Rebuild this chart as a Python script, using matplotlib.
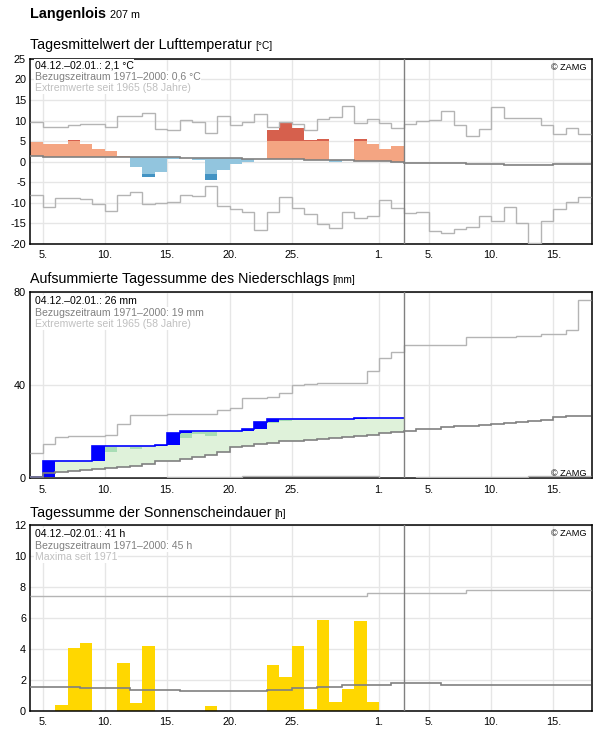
import numpy as np
import matplotlib
matplotlib.use("Agg")
import matplotlib.pyplot as plt

plt.rcParams["font.family"] = ["Liberation Sans", "DejaVu Sans"]
plt.rcParams["axes.unicode_minus"] = False

# day index 0 = 04.12., 30 = 03.01. (current period ends 02.01.)
tick_pos = [1, 6, 11, 16, 21, 28, 32, 37, 42]
tick_labels = ["5.", "10.", "15.", "20.", "25.", "1.", "5.", "10.", "15."]

# --- temperature (°C) ---
temp = [4.7, 4.4, 4.2, 5.2, 4.2, 3.2, 2.7, 1.5, -1.3, -3.75,
        -2.5, 0.6, 1.0, 0.4, -4.5, -1.9, -0.6, -0.1, 0.7, 7.6,
        9.5, 8.1, 5.2, 5.6, 0.0, 0.3, 5.4, 4.2, 3.2, 3.7]
temp_mean = [1.5] + [1.25] * 11 + [1.0] * 5 + [0.7] * 5 + [0.5] * 2 + [0.3] * 2 \
    + [0.2] * 2 + [0.1, 0.0, -0.25, -0.25] + [-0.4] * 3 + [-0.6] * 3 + [-0.8] * 4 + [-0.6] * 3
temp_max = [9.7, 8.5, 8.5, 9.0, 9.2, 9.2, 8.5, 11.1, 11.1, 11.9,
            8.0, 7.7, 10.2, 9.7, 7.0, 11.1, 9.0, 9.7, 11.6, 8.5,
            9.7, 9.2, 7.7, 10.4, 10.9, 13.6, 9.4, 10.4, 9.4, 8.2,
            9.2, 9.8, 10.2, 12.3, 8.9, 6.3, 8.0, 13.2, 10.7, 10.5,
            10.7, 8.8, 6.8, 8.3, 6.7]
temp_min = [-8.0, -10.9, -8.8, -8.8, -9.0, -10.2, -12.0, -8.0, -7.3, -10.2,
            -10.0, -9.8, -8.0, -8.3, -5.85, -10.7, -11.4, -12.3, -16.6, -12.2,
            -8.7, -11.3, -12.8, -15.2, -16.0, -12.3, -13.8, -13.1, -9.2, -11.3,
            -12.4, -12.2, -16.8, -17.3, -16.3, -15.9, -13.1, -14.4, -11.0, -15.0,
            -19.7, -14.4, -11.5, -9.8, -8.5]
warm_limit = 5.0
cold_limit = -3.0

# --- precipitation (mm) ---
precip = [0.7, 6.6, 0, 0, 0, 6.6, 0, 0, 0, 0,
          0.4, 5.1, 0.7, 0, 0, 0, 0, 0.9, 3.2, 1.2,
          0, 0, 0, 0, 0, 0, 0.4, 0, 0, 0]
precip_mean = [0.7, 2.4, 2.7, 3.1, 3.4, 3.9, 4.3, 4.7, 5.4, 6.1,
               7.3, 7.6, 8.2, 9.3, 10.0, 11.1, 13.3, 13.7, 14.7, 15.0,
               15.9, 16.1, 16.4, 16.9, 17.4, 17.9, 18.2, 18.5, 19.3, 19.7,
               20.2, 21.0, 21.0, 21.9, 22.3, 22.6, 22.8, 23.2, 23.7, 24.3,
               24.6, 24.9, 26.2, 26.6, 26.6]
precip_max = [10.7, 14.6, 17.6, 18.0, 18.0, 18.3, 18.6, 23.3, 27.0, 27.0,
              27.0, 27.4, 27.4, 27.4, 27.6, 29.3, 30.0, 34.3, 34.3, 34.8,
              36.5, 39.9, 40.3, 40.8, 40.8, 40.8, 40.8, 46.0, 51.4, 54.3,
              57.0, 57.0, 57.0, 57.0, 57.0, 60.5, 60.5, 60.5, 60.5, 60.9,
              60.9, 62.0, 62.0, 63.5, 76.5]
precip_min = [0] * 11 + [0.4] * 6 + [1.2] * 11 + [0, 0, 0] + [0.4] * 9 + [1.0] * 5
# darker green patches (day, low, high)
green_day = [6, 8, 12, 13, 14, 19, 20]
green_low = [11.4, 12.6, 17.4, 18.8, 18.3, 23.9, 24.7]
green_high = [13.6, 13.6, 19.7, 19.7, 19.9, 24.2, 25.0]

# --- sunshine (h) ---
sun = [0, 0, 0.4, 4.1, 4.4, 0, 0, 3.1, 0.5, 4.2,
       0, 0, 0, 0, 0.3, 0, 0, 0, 0, 3.0,
       2.2, 4.2, 0.1, 5.9, 0.6, 1.4, 5.8, 0.6, 0, 0]
sun_mean = [1.53] * 4 + [1.46] * 4 + [1.33] * 4 + [1.27] * 7 + [1.33] * 2 + [1.46] * 2 \
    + [1.53] * 2 + [1.68] * 4 + [1.8] * 4 + [1.68] * 12
sun_max = [7.45] * 27 + [7.6] * 5 + [7.65] * 3 + [7.8] * 10

W, H = 596, 729
fig = plt.figure(figsize=(W / 100, H / 100), dpi=100)
left, width = 30.2 / W, (592 - 30.2) / W
n_now = len(temp)
n_all = len(temp_max)
edges = np.arange(n_all + 1)
edges_now = np.arange(n_now + 1)

GRID = "#e6e6e6"
MEAN_C = "#808080"
EXT_C = "#b4b4b4"


def make_axes(top_px, bottom_px, ylim, yticks):
    ax = fig.add_axes([left, 1 - bottom_px / H, width, (bottom_px - top_px) / H])
    ax.set_xlim(0, 45.1)
    ax.set_ylim(*ylim)
    ax.set_yticks(yticks)
    ax.set_xticks(tick_pos)
    ax.set_xticklabels(tick_labels)
    ax.tick_params(length=0, labelsize=7.8, pad=3)
    ax.tick_params(axis="x", pad=4.5)
    ax.grid(True, color=GRID, lw=1.0, zorder=0)
    ax.set_axisbelow(True)
    for s in ax.spines.values():
        s.set_linewidth(1.1)
    ax.axvline(n_now, color=MEAN_C, lw=1.0, zorder=4)
    return ax


def step(ax, vals, e, color, lw):
    ax.stairs(vals, e, baseline=None, color=color, lw=lw, zorder=3)


def info(ax, lines, first_px):
    colors = ["black", "#808080", "#c0c0c0"]
    for k, (s, c) in enumerate(zip(lines, colors)):
        ax.annotate(s, xy=(0, 1), xycoords="axes fraction",
                    xytext=(3.2, -(first_px + 11.5 * k) * 0.72), textcoords="offset points",
                    va="baseline", ha="left", fontsize=7.6, color=c, zorder=6,
                    bbox=dict(facecolor="white", edgecolor="none", pad=0.6))


def zamg(ax, top=True):
    if top:
        ax.annotate("© ZAMG", xy=(1, 1), xycoords="axes fraction", xytext=(-4, -7.8),
                    textcoords="offset points", ha="right", va="baseline", fontsize=6.6)
    else:
        ax.annotate("© ZAMG", xy=(1, 0), xycoords="axes fraction", xytext=(-4, 1.8),
                    textcoords="offset points", ha="right", va="baseline", fontsize=6.6)


def panel_title(text, unit, base_px):
    t = fig.text(30 / W, 1 - base_px / H, text, fontsize=10.3, va="baseline")
    fig.canvas.draw()
    bb = t.get_window_extent()
    fig.text(bb.x1 / W + 3 / W, 1 - base_px / H, unit, fontsize=7.3, va="baseline")


# header
t = fig.text(30 / W, 1 - 18.3 / H, "Langenlois", fontsize=10.4, fontweight="bold", va="baseline")
fig.canvas.draw()
bb = t.get_window_extent()
fig.text(bb.x1 / W + 4 / W, 1 - 18.3 / H, "207 m", fontsize=7.8, va="baseline")

# ---------------- temperature ----------------
ax1 = make_axes(58.8, 244, (-20, 25), range(-20, 26, 5))
panel_title("Tagesmittelwert der Lufttemperatur", "[°C]", 49.3)
days = np.arange(n_now)
for d, v, m in zip(days, temp, temp_mean[:n_now]):
    if v >= m:
        top = min(v, warm_limit) if m < warm_limit else v
        ax1.bar(d, top - m, bottom=m, width=1, align="edge", color="#f4a582", zorder=2)
        if v > warm_limit:
            ax1.bar(d, v - warm_limit, bottom=warm_limit, width=1, align="edge", color="#d6604d", zorder=2)
    else:
        low = max(v, cold_limit)
        ax1.bar(d, low - m, bottom=m, width=1, align="edge", color="#92c5de", zorder=2)
        if v < cold_limit:
            ax1.bar(d, v - cold_limit, bottom=cold_limit, width=1, align="edge", color="#4393c3", zorder=2)
step(ax1, temp_max, edges, EXT_C, 1.0)
step(ax1, temp_min, edges, EXT_C, 1.0)
step(ax1, temp_mean, edges, MEAN_C, 1.2)
info(ax1, ["04.12.–02.01.: 2,1 °C", "Bezugszeitraum 1971–2000: 0,6 °C",
           "Extremwerte seit 1965 (58 Jahre)"], 9.3)
zamg(ax1, top=True)

# ---------------- precipitation ----------------
ax2 = make_axes(291.7, 478.3, (0, 80), [0, 40, 80])
panel_title("Aufsummierte Tagessumme des Niederschlags", "[mm]", 283.3)
cum = np.cumsum(precip)
mean_now = np.array(precip_mean[:n_now])
ax2.stairs(np.maximum(cum, mean_now), edges_now, baseline=mean_now, fill=True,
           color="#dff2da", lw=0, zorder=2)
ax2.bar(green_day, np.array(green_high) - np.array(green_low), bottom=green_low,
        width=1, align="edge", color="#a8ddb5", zorder=2)
ax2.bar(days, precip, bottom=cum - np.array(precip), width=1, align="edge",
        color="#0000ff", zorder=3)
step(ax2, cum, edges_now, "#0000ff", 1.2)
step(ax2, precip_max, edges, EXT_C, 1.0)
step(ax2, precip_min, edges, EXT_C, 1.0)
step(ax2, precip_mean, edges, MEAN_C, 1.2)
info(ax2, ["04.12.–02.01.: 26 mm", "Bezugszeitraum 1971–2000: 19 mm",
           "Extremwerte seit 1965 (58 Jahre)"], 12.3)
zamg(ax2, top=False)

# ---------------- sunshine ----------------
ax3 = make_axes(525.2, 711, (0, 12), range(0, 13, 2))
panel_title("Tagessumme der Sonnenscheindauer", "[h]", 517.3)
ax3.bar(days, sun, width=1, align="edge", color="#ffd700", zorder=2)
step(ax3, sun_max, edges, EXT_C, 1.0)
step(ax3, sun_mean, edges, MEAN_C, 1.2)
info(ax3, ["04.12.–02.01.: 41 h", "Bezugszeitraum 1971–2000: 45 h", "Maxima seit 1971"], 12.0)
zamg(ax3, top=True)

fig.savefig("out.png", dpi=100, facecolor="white")
